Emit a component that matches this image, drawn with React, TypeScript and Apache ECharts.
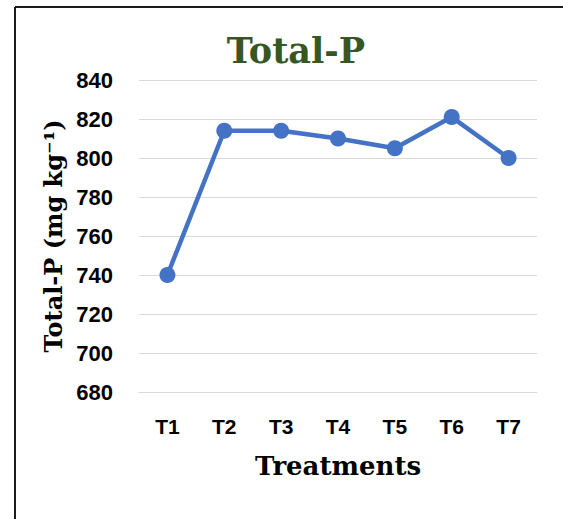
import React, { useEffect, useRef } from "react";
import * as echarts from "echarts";

const categories = ["T1", "T2", "T3", "T4", "T5", "T6", "T7"];
const totalP = [740, 814, 814, 810, 805, 821, 800];
const yMin = 680;
const yMax = 840;
const yStep = 20;
const chartTitle = "Total-P";
const yTitle = "Total-P (mg kg\u207B\u00B9)";
const xTitle = "Treatments";

export default function App() {
  const ref = useRef<HTMLDivElement>(null);
  useEffect(() => {
    if (!ref.current) return;
    const chart = echarts.init(ref.current, null, { renderer: "svg" });
    const serif = "DejaVu Serif";
    const sans = "Liberation Sans";
    chart.setOption({
      animation: false,
      backgroundColor: "#ffffff",
      title: {
        text: chartTitle,
        left: 291,
        top: 28,
        textAlign: "center",
        textStyle: { fontFamily: serif, fontWeight: "bold", fontSize: 35, color: "#375623" },
      },
      grid: { left: 139, right: 26, top: 80, bottom: 127, containLabel: false },
      xAxis: {
        type: "category",
        data: categories,
        boundaryGap: true,
        axisLine: { show: true, lineStyle: { color: "#d9d9d9", width: 1 } },
        axisTick: { show: false },
        axisLabel: { margin: 24, fontFamily: sans, fontWeight: "bold", fontSize: 21, color: "#000" },
        name: xTitle,
        nameLocation: "middle",
        nameGap: 61,
        nameTextStyle: { fontFamily: serif, fontWeight: "bold", fontSize: 26, color: "#000" },
      },
      yAxis: {
        type: "value",
        min: yMin,
        max: yMax,
        interval: yStep,
        axisLine: { show: false },
        axisTick: { show: false },
        splitLine: { lineStyle: { color: "#d9d9d9", width: 1 } },
        axisLabel: { margin: 26, fontFamily: sans, fontWeight: "bold", fontSize: 22, color: "#000" },
        name: yTitle,
        nameLocation: "middle",
        nameGap: 72,
        nameTextStyle: { fontFamily: serif, fontWeight: "bold", fontSize: 24, color: "#000" },
      },
      series: [
        {
          type: "line",
          data: totalP,
          symbol: "circle",
          symbolSize: 16,
          lineStyle: { color: "#4472C4", width: 4.5 },
          itemStyle: { color: "#4472C4" },
        },
      ],
      graphic: [
        { type: "line", shape: { x1: 15, y1: 7, x2: 563, y2: 7 }, style: { stroke: "#1a1a1a", lineWidth: 2 } },
        { type: "line", shape: { x1: 15, y1: 7, x2: 15, y2: 519 }, style: { stroke: "#1a1a1a", lineWidth: 2 } },
      ],
    });
    return () => chart.dispose();
  }, []);
  return (
    <div
      ref={ref}
      style={{ position: "fixed", left: 0, top: 0, width: 563, height: 519 }}
    />
  );
}
